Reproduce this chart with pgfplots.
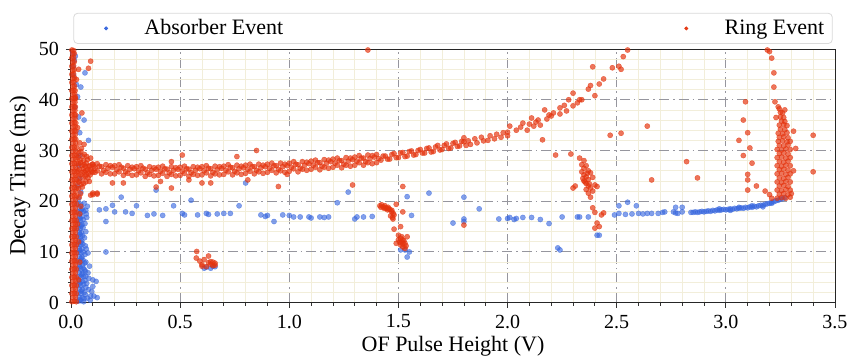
\documentclass[border=0pt]{standalone}
\usepackage{fontspec}
\setmainfont{Liberation Serif}
\usepackage{pgfplots}
\pgfplotsset{compat=1.18}
\definecolor{absblue}{RGB}{55,102,222}
\definecolor{ringred}{RGB}{228,52,14}
\definecolor{minorg}{RGB}{242,238,218}
\definecolor{majorg}{RGB}{150,150,158}
\begin{document}
\begin{tikzpicture}
\useasboundingbox (0,0) rectangle (425.5pt,180pt);
\begin{axis}[
  at={(35.5pt,28.65pt)}, anchor=south west,
  scale only axis, width=382pt, height=126.85pt,
  xmin=0, xmax=3.5, ymin=0, ymax=50,
  xtick={0,0.5,1,1.5,2,2.5,3,3.5},
  ytick={0,10,20,30,40,50},
  minor x tick num=4, minor y tick num=4,
  tick pos=left, tick align=outside,
  major tick length=2.5pt, minor tick length=1.5pt,
  tick style={draw=black!80, line width=0.4pt},
  xticklabel style={/pgf/number format/.cd, fixed, fixed zerofill, precision=1},
  /pgf/number format/assume math mode=true,
  ticklabel style={font=\fontsize{10}{12}\selectfont},
  xlabel={OF Pulse Height (V)}, ylabel={Decay Time (ms)},
  xlabel style={font=\fontsize{11}{13}\selectfont, at={(axis description cs:0.5,0)}, anchor=center, yshift=-22pt},
  ylabel style={font=\fontsize{11.5}{13}\selectfont, at={(axis description cs:0,0.5)}, anchor=center, rotate=0, yshift=25.5pt},
  grid=both,
  major grid style={draw=majorg, dash pattern=on 5pt off 2pt on 0.8pt off 2pt, line width=0.5pt},
  minor grid style={draw=minorg, line width=0.35pt},
  axis line style={draw=black!85, line width=0.5pt},
  legend columns=2,
  legend image code/.code={\fill[#1, fill opacity=0.9] (0pt,0pt) circle (0.75pt); \path (-14pt,0pt) (17pt,0pt);},
  legend style={at={(axis description cs:0.5,1.02)}, anchor=south,
    draw={rgb,255:red,218;green,218;blue,218}, line width=0.4pt, rounded corners=2pt, fill=white,
    font=\fontsize{11}{13}\selectfont, inner xsep=2pt, inner ysep=1pt},
]
\addplot[only marks, mark=*, mark size=1.3pt, color=absblue, fill=absblue, mark options={fill opacity=0.62, draw opacity=0.62, line width=0.2pt}] table[row sep=\\] {
x y\\
0.032 0.3\\0.045 0.4\\0.058 0.2\\0.038 1.1\\0.052 1.0\\0.032 1.9\\0.045 1.8\\0.060 2.0\\0.038 2.7\\0.052 2.6\\
0.032 3.5\\0.045 3.4\\0.058 3.6\\0.038 4.3\\0.052 4.2\\0.032 5.1\\0.045 5.0\\0.058 5.2\\0.038 5.9\\0.052 5.8\\
0.032 6.7\\0.045 6.6\\0.056 6.8\\0.038 7.5\\0.052 7.4\\0.032 8.3\\0.045 8.2\\0.055 8.4\\0.038 9.1\\0.050 9.0\\
0.032 9.9\\0.045 9.8\\0.056 10.0\\0.038 10.7\\0.050 10.6\\0.032 11.5\\0.044 11.4\\0.054 11.6\\0.038 12.3\\0.049 12.2\\
0.032 13.1\\0.044 13.0\\0.053 13.2\\0.038 13.9\\0.048 13.8\\0.032 14.7\\0.043 14.6\\0.055 14.8\\0.038 15.5\\0.050 15.4\\
0.032 16.3\\0.043 16.2\\0.056 16.4\\0.038 17.1\\0.050 17.0\\0.032 17.9\\0.045 17.8\\0.058 18.0\\0.038 18.7\\0.052 18.6\\
0.032 19.5\\0.045 19.4\\0.060 19.6\\0.040 0.6\\0.048 2.3\\0.041 3.9\\0.049 5.5\\0.041 7.1\\0.047 8.7\\0.040 10.3\\
0.046 11.9\\0.041 13.5\\0.046 15.1\\0.041 16.7\\0.047 18.3\\0.066 1.6\\0.068 3.0\\0.064 4.4\\0.066 6.2\\0.063 7.8\\
0.060 0.8\\0.075 0.9\\0.090 1.3\\0.105 1.3\\0.080 2.6\\0.100 3.2\\0.115 4.2\\0.100 4.5\\0.072 3.8\\0.068 5.2\\
0.078 5.9\\0.062 6.5\\0.085 7.2\\0.068 8.0\\0.064 9.5\\0.160 10.0\\0.066 11.2\\0.062 12.8\\0.068 14.0\\0.064 15.6\\
0.072 16.8\\0.068 18.2\\0.075 19.0\\0.070 17.5\\0.120 1.0\\0.082 4.8\\0.088 0.5\\0.095 2.2\\0.078 9.8\\0.070 10.6\\
0.035 20.5\\0.045 21.8\\0.030 23.0\\0.040 24.5\\0.035 27.0\\0.040 29.0\\0.080 32.0\\0.040 33.5\\0.035 36.6\\0.060 36.0\\
0.030 40.6\\0.045 42.5\\0.064 45.3\\0.010 46.5\\0.015 47.8\\0.008 49.2\\0.020 48.6\\0.012 44.8\\0.025 43.0\\0.018 38.5\\
0.13 18.3\\0.16 18.5\\0.19 19.2\\0.23 20.8\\0.20 17.9\\0.16 16.0\\0.25 17.9\\0.28 17.6\\0.30 19.1\\0.35 17.2\\
0.39 22.2\\0.38 17.5\\0.42 17.2\\0.47 19.1\\0.51 17.6\\0.52 17.3\\0.55 20.2\\0.58 17.3\\0.62 17.6\\0.63 17.4\\
0.67 17.5\\0.70 17.6\\0.73 17.6\\0.77 19.1\\0.80 23.6\\0.87 17.3\\0.89 17.0\\0.90 17.2\\0.93 16.0\\0.97 17.3\\
1.00 17.2\\1.02 16.9\\1.05 16.9\\1.09 16.9\\1.10 16.7\\1.14 16.9\\1.16 16.8\\1.18 16.9\\1.22 19.7\\1.27 21.8\\
1.30 16.5\\1.31 16.9\\1.34 16.9\\1.38 17.0\\1.56 17.2\\1.54 20.9\\1.53 10.4\\1.54 9.0\\1.51 10.4\\1.55 10.0\\
1.64 21.6\\1.75 15.7\\1.80 16.0\\1.80 16.5\\1.80 20.8\\1.87 18.5\\1.96 16.5\\2.00 16.6\\2.01 16.8\\2.03 16.4\\
2.04 16.6\\2.07 16.8\\2.11 16.8\\2.15 16.4\\2.19 15.6\\2.25 16.9\\2.32 16.9\\2.33 16.9\\2.37 16.9\\2.23 10.8\\
2.24 10.4\\2.41 13.3\\2.42 13.3\\2.49 17.3\\2.51 19.1\\2.55 19.8\\2.59 19.1\\2.51 17.6\\2.54 17.4\\2.57 17.5\\
2.60 17.6\\2.62 17.5\\2.64 17.6\\2.66 17.6\\2.69 17.6\\2.71 17.8\\2.72 17.9\\2.76 17.9\\2.77 17.7\\2.78 17.6\\
2.80 17.9\\2.77 18.8\\2.80 18.8\\2.84 17.8\\
0.61 6.8\\0.62 7.0\\0.65 7.2\\0.64 6.8\\0.66 7.1\\
2.85 17.8\\2.86 17.9\\2.87 17.8\\2.88 17.9\\2.89 18.0\\2.90 17.9\\2.91 18.0\\2.92 18.1\\2.93 18.0\\2.94 18.2\\
2.95 18.1\\2.96 18.3\\2.97 18.2\\2.98 18.3\\2.99 18.4\\3.00 18.3\\3.01 18.4\\3.02 18.5\\3.03 18.4\\3.04 18.6\\
3.05 18.5\\3.06 18.6\\3.07 18.7\\3.08 18.6\\3.09 18.8\\3.10 18.7\\3.11 18.9\\3.12 18.8\\3.13 19.0\\3.14 18.9\\
3.15 19.1\\3.16 19.2\\3.17 19.2\\3.18 19.4\\3.19 19.5\\3.20 19.6\\3.21 19.8\\3.22 19.9\\3.23 20.1\\3.24 20.2\\
3.25 20.4\\3.26 20.5\\3.27 20.7\\3.06 18.8\\3.12 19.1\\3.02 18.2\\2.97 18.5\\3.17 18.9\\3.21 19.6\\
};
\addlegendentry{\makebox[254.7pt][l]{Absorber Event}}
\addplot[only marks, mark=*, mark size=1.3pt, color=ringred, fill=ringred, mark options={fill opacity=0.68, draw opacity=0.68, line width=0.2pt}] table[row sep=\\] {
x y\\
0.004 0.2\\0.015 0.3\\0.024 0.2\\0.009 1.0\\0.020 1.1\\0.004 1.8\\0.015 1.9\\0.024 1.8\\0.009 2.6\\0.020 2.7\\
0.004 3.4\\0.015 3.5\\0.024 3.4\\0.009 4.2\\0.020 4.3\\0.004 5.0\\0.015 5.1\\0.024 5.0\\0.009 5.8\\0.020 5.9\\
0.004 6.6\\0.015 6.7\\0.024 6.6\\0.009 7.4\\0.020 7.5\\0.004 8.2\\0.015 8.3\\0.024 8.2\\0.009 9.0\\0.020 9.1\\
0.004 9.8\\0.015 9.9\\0.024 9.8\\0.009 10.6\\0.020 10.7\\0.004 11.4\\0.015 11.5\\0.024 11.4\\0.009 12.2\\0.020 12.3\\
0.004 13.0\\0.015 13.1\\0.024 13.0\\0.009 13.8\\0.020 13.9\\0.004 14.6\\0.015 14.7\\0.024 14.6\\0.009 15.4\\0.020 15.5\\
0.004 16.2\\0.015 16.3\\0.024 16.2\\0.009 17.0\\0.020 17.1\\0.004 17.8\\0.015 17.9\\0.024 17.8\\0.009 18.6\\0.020 18.7\\
0.004 19.4\\0.015 19.5\\0.026 19.4\\0.009 20.2\\0.021 20.3\\0.004 21.0\\0.015 21.1\\0.026 21.0\\0.009 21.8\\0.021 21.9\\
0.004 22.6\\0.015 22.7\\0.026 22.6\\0.009 23.4\\0.021 23.5\\0.004 24.2\\0.015 24.3\\0.026 24.2\\0.009 25.0\\0.021 25.1\\
0.004 25.8\\0.015 25.9\\0.026 25.8\\0.009 26.6\\0.021 26.7\\0.004 27.4\\0.015 27.5\\0.026 27.4\\0.009 28.2\\0.021 28.3\\
0.004 29.0\\0.015 29.1\\0.026 29.0\\0.009 29.8\\0.021 29.9\\0.004 30.6\\0.015 30.7\\0.026 30.6\\0.009 31.4\\0.021 31.5\\
0.004 32.2\\0.015 32.3\\0.022 32.2\\0.009 33.0\\0.019 33.1\\0.004 33.8\\0.015 33.9\\0.022 33.8\\0.009 34.6\\0.019 34.7\\
0.004 35.4\\0.015 35.5\\0.022 35.4\\0.009 36.2\\0.019 36.3\\0.004 37.0\\0.015 37.1\\0.021 37.0\\0.009 37.8\\0.018 37.9\\
0.004 38.6\\0.014 38.7\\0.020 38.6\\0.009 39.4\\0.018 39.5\\0.004 40.2\\0.014 40.3\\0.020 40.2\\0.009 41.0\\0.017 41.1\\
0.004 41.8\\0.013 41.9\\0.019 41.8\\0.009 42.6\\0.016 42.7\\0.004 43.4\\0.013 43.5\\0.009 44.2\\0.016 44.3\\0.004 45.0\\
0.012 45.1\\0.008 45.8\\0.015 45.9\\0.004 46.6\\0.012 46.7\\0.008 47.4\\0.015 47.5\\0.004 48.2\\0.012 48.3\\0.008 49.0\\
0.015 49.1\\0.004 49.8\\0.012 49.7\\
0.035 22.5\\0.040 24.0\\0.045 25.2\\0.038 26.3\\0.050 27.0\\0.042 28.1\\0.036 29.5\\0.048 30.4\\0.055 24.6\\0.060 25.8\\
0.065 26.9\\0.058 28.0\\0.070 27.5\\0.075 26.2\\0.080 25.5\\0.085 27.0\\0.090 26.3\\0.068 23.8\\0.052 22.8\\0.044 21.5\\
0.038 20.8\\0.062 29.2\\0.072 28.8\\0.090 28.5\\0.040 31.5\\0.035 27.4\\0.046 23.3\\0.078 24.6\\0.095 25.9\\0.098 27.3\\
0.033 25.0\\0.056 26.4\\0.066 24.9\\0.084 23.9\\0.120 21.4\\0.100 21.6\\0.090 21.2\\0.105 26.9\\0.110 25.7\\0.045 19.0\\
0.040 17.5\\0.035 12.0\\0.040 8.0\\0.035 4.5\\0.030 15.5\\0.032 26.0\\0.044 27.6\\0.052 28.9\\0.060 27.2\\0.068 26.0\\
0.075 28.2\\0.082 26.8\\0.050 25.6\\0.058 23.5\\0.036 23.8\\0.032 28.6\\0.045 29.8\\0.070 25.3\\0.088 25.2\\
0.080 46.2\\0.090 47.6\\0.035 46.0\\0.050 37.4\\0.030 34.5\\0.060 31.2\\0.025 44.0\\0.020 40.5\\
0.10 25.7\\0.11 26.5\\0.10 27.3\\0.12 26.0\\0.13 26.9\\0.12 27.4\\0.14 25.4\\0.15 26.1\\0.14 26.8\\
0.16 25.7\\0.17 26.5\\0.16 27.2\\0.18 25.4\\0.19 26.7\\0.18 27.0\\0.20 25.4\\0.21 26.2\\0.20 27.0\\
0.22 25.8\\0.23 26.7\\0.22 27.2\\0.24 25.1\\0.25 25.8\\0.24 26.5\\0.26 25.5\\0.27 26.3\\0.26 27.0\\
0.28 25.1\\0.29 26.4\\0.28 26.7\\0.30 25.2\\0.31 26.0\\0.30 26.8\\0.32 25.6\\0.33 26.5\\0.32 27.0\\
0.34 24.9\\0.35 25.6\\0.34 26.3\\0.36 25.3\\0.37 26.1\\0.36 26.8\\0.38 25.0\\0.39 26.3\\0.38 26.6\\
0.40 25.1\\0.41 25.9\\0.40 26.7\\0.42 25.5\\0.43 26.4\\0.42 26.9\\0.44 24.9\\0.45 25.6\\0.44 26.3\\
0.46 25.3\\0.47 26.1\\0.46 26.8\\0.48 25.0\\0.49 26.3\\0.48 26.6\\0.50 25.1\\0.51 25.9\\0.50 26.7\\
0.52 25.5\\0.53 26.4\\0.52 26.9\\0.54 24.9\\0.55 25.6\\0.54 26.3\\0.56 25.3\\0.57 26.1\\0.56 26.8\\
0.58 25.1\\0.59 26.4\\0.58 26.7\\0.60 25.2\\0.61 26.0\\0.60 26.8\\0.62 25.6\\0.63 26.5\\0.62 27.0\\
0.64 25.0\\0.65 25.7\\0.64 26.4\\0.66 25.4\\0.67 26.2\\0.66 26.9\\0.68 25.2\\0.69 26.5\\0.68 26.8\\
0.70 25.3\\0.71 26.1\\0.70 26.9\\0.72 25.8\\0.73 26.7\\0.72 27.2\\0.74 25.2\\0.75 25.9\\0.74 26.6\\
0.76 25.6\\0.77 26.4\\0.76 27.1\\0.78 25.3\\0.79 26.6\\0.78 26.9\\0.80 25.5\\0.81 26.3\\0.80 27.1\\
0.82 25.9\\0.83 26.8\\0.82 27.3\\0.84 25.4\\0.85 26.1\\0.84 26.8\\0.86 25.8\\0.87 26.6\\0.86 27.3\\
0.88 25.5\\0.89 26.8\\0.88 27.1\\0.90 25.7\\0.91 26.5\\0.90 27.3\\0.92 26.1\\0.93 27.0\\0.92 27.5\\
0.94 25.6\\0.95 26.3\\0.94 27.0\\0.96 26.0\\0.97 26.8\\0.96 27.5\\0.98 25.7\\0.99 27.0\\0.98 27.3\\
1.00 25.9\\1.01 26.7\\1.00 27.5\\1.02 26.4\\1.03 27.3\\1.02 27.8\\1.04 25.8\\1.05 26.5\\1.04 27.2\\
1.06 26.3\\1.07 27.1\\1.06 27.8\\1.08 26.1\\1.09 27.4\\1.08 27.7\\1.10 26.3\\1.11 27.1\\1.10 27.9\\
1.12 26.7\\1.13 27.6\\1.12 28.1\\1.14 26.2\\1.15 26.9\\1.14 27.6\\1.16 26.7\\1.17 27.5\\1.16 28.2\\
1.18 26.5\\1.19 27.8\\1.18 28.1\\1.20 26.7\\1.21 27.5\\1.20 28.3\\1.22 27.1\\1.23 28.0\\1.22 28.5\\
1.24 26.6\\1.25 27.3\\1.24 28.0\\1.26 27.1\\1.27 27.9\\1.26 28.6\\1.28 26.9\\1.29 28.2\\1.28 28.5\\
1.30 27.1\\1.31 27.9\\1.30 28.7\\1.32 27.6\\1.33 28.5\\1.32 29.0\\1.34 27.1\\1.35 27.8\\1.34 28.5\\
1.36 27.6\\1.37 28.4\\1.36 29.1\\1.38 27.4\\1.39 28.7\\1.38 29.0\\1.40 27.6\\1.41 28.4\\1.40 29.2\\
1.42 28.1\\1.43 28.9\\1.44 28.9\\1.45 28.3\\1.46 28.3\\1.47 29.2\\1.48 29.4\\1.49 28.6\\1.50 28.6\\1.51 29.5\\
1.52 29.6\\1.53 28.8\\1.54 28.9\\1.55 29.8\\1.56 29.9\\1.57 29.1\\1.58 29.2\\1.59 30.0\\1.60 30.2\\1.61 29.5\\
1.62 29.5\\1.63 30.4\\1.64 30.5\\1.65 29.7\\1.66 29.8\\1.67 30.7\\1.68 31.0\\1.69 30.1\\1.70 30.2\\1.71 31.0\\
1.72 31.3\\1.73 30.4\\1.74 30.5\\1.75 31.4\\1.76 31.6\\1.77 30.8\\1.78 30.9\\1.79 31.8\\1.80 31.7\\1.81 31.0\\
1.80 32.5\\1.82 31.9\\1.83 31.2\\1.85 32.3\\1.86 31.5\\1.88 32.6\\1.89 31.9\\1.91 32.0\\1.92 32.9\\1.94 32.3\\
1.95 33.2\\1.97 32.6\\1.98 33.5\\2.00 33.6\\2.00 32.9\\2.01 34.8\\
2.07 35.4\\2.09 34.0\\2.11 36.4\\2.12 34.8\\2.13 35.6\\2.15 35.0\\2.17 38.0\\2.18 36.2\\2.20 36.8\\2.21 37.4\\
2.24 38.4\\2.24 37.2\\2.27 37.8\\2.28 40.0\\2.30 41.3\\2.30 38.8\\2.32 39.4\\2.33 40.0\\2.34 40.0\\2.37 42.1\\
2.38 42.8\\2.40 40.8\\2.42 43.1\\2.44 44.1\\2.39 46.5\\2.48 46.3\\2.51 46.6\\2.52 46.0\\2.53 48.5\\2.55 49.8\\
2.04 34.0\\2.06 34.6\\2.10 35.2\\2.14 36.0\\2.19 37.0\\2.26 38.9\\
1.36 49.8\\0.51 29.1\\0.76 28.8\\0.85 30.0\\0.46 27.8\\0.19 23.6\\0.24 23.6\\0.41 23.9\\0.46 22.6\\0.54 24.2\\
0.60 23.6\\0.64 23.6\\0.81 24.2\\0.95 22.9\\0.99 25.3\\1.29 23.2\\0.12 21.6\\0.10 21.3\\0.39 22.8\\1.52 22.9\\
1.52 17.9\\1.51 15.0\\1.48 14.5\\1.80 15.3\\2.16 32.1\\2.22 29.1\\2.29 29.3\\2.52 33.4\\2.47 33.0\\2.64 34.8\\
2.82 27.8\\2.87 24.6\\2.66 24.2\\2.44 17.7\\
0.576 10.1\\0.574 8.8\\0.59 8.2\\0.60 7.2\\0.61 8.5\\0.63 9.2\\0.63 7.9\\0.64 7.6\\0.65 7.3\\0.60 7.5\\
0.66 7.8\\0.65 8.0\\0.62 7.1\\0.64 8.1\\0.66 7.4\\
1.415 19.1\\1.43 18.9\\1.446 18.6\\1.461 18.4\\1.469 17.9\\1.476 17.6\\1.464 17.1\\1.473 16.8\\1.453 18.8\\1.438 19.1\\
1.423 19.3\\1.44 18.7\\1.455 18.5\\1.47 18.2\\1.48 17.3\\1.475 16.5\\1.49 19.4\\1.42 18.8\\1.435 18.6\\1.45 18.3\\
1.50 13.3\\1.51 12.7\\1.515 12.0\\1.52 12.4\\1.53 11.7\\1.51 11.4\\1.49 11.7\\1.52 11.0\\1.54 13.0\\1.50 12.4\\
1.515 13.0\\1.53 10.7\\1.525 12.2\\1.505 11.9\\1.52 11.6\\1.535 11.2\\
2.33 28.5\\2.34 27.2\\2.35 26.5\\2.34 25.8\\2.35 25.2\\2.36 24.8\\2.37 24.3\\2.35 24.0\\2.36 23.5\\2.37 23.0\\
2.38 22.6\\2.36 22.3\\2.39 24.7\\2.38 25.6\\2.37 26.0\\2.36 27.0\\2.40 23.2\\2.39 22.0\\2.41 22.9\\2.37 21.6\\
2.31 23.0\\2.30 22.6\\2.38 20.8\\2.39 18.7\\2.41 15.7\\2.40 14.7\\2.43 17.3\\2.42 15.0\\2.40 17.8\\2.35 28.0\\
2.355 23.8\\2.365 25.5\\2.345 24.5\\2.375 23.4\\
3.235 20.6\\3.255 20.7\\3.275 20.6\\3.295 20.8\\3.245 21.4\\3.265 21.5\\3.285 21.3\\
3.235 22.2\\3.255 22.1\\3.275 22.3\\3.295 22.2\\3.245 23.0\\3.265 23.1\\3.285 22.9\\
3.235 23.8\\3.255 23.7\\3.275 23.9\\3.295 23.8\\3.245 24.6\\3.265 24.5\\3.285 24.7\\
3.235 25.4\\3.255 25.5\\3.275 25.3\\3.295 25.4\\3.245 26.2\\3.265 26.3\\3.285 26.1\\
3.235 27.0\\3.255 26.9\\3.275 27.1\\3.295 27.0\\3.245 27.8\\3.265 27.7\\3.285 27.9\\
3.235 28.6\\3.255 28.7\\3.275 28.5\\3.295 28.6\\3.245 29.4\\3.265 29.5\\3.285 29.3\\
3.235 30.2\\3.255 30.1\\3.275 30.3\\3.295 30.2\\3.245 31.0\\3.265 30.9\\3.285 31.1\\
3.24 31.8\\3.26 31.9\\3.28 31.7\\3.295 31.8\\3.245 32.6\\3.265 32.7\\3.285 32.5\\
3.24 33.4\\3.26 33.3\\3.28 33.5\\3.25 34.2\\3.27 34.1\\3.245 35.0\\3.265 35.1\\3.28 34.9\\
3.255 35.8\\3.27 35.7\\3.25 36.6\\3.265 36.5\\3.26 37.4\\3.245 38.2\\3.27 38.0\\
3.20 49.5\\3.21 48.2\\3.22 45.3\\3.22 42.5\\3.225 39.6\\3.24 38.6\\3.09 39.6\\3.08 36.0\\3.10 33.5\\3.06 32.0\\
3.11 30.5\\3.08 29.0\\3.12 27.5\\3.10 25.3\\3.14 23.0\\3.18 22.0\\3.40 33.0\\3.40 25.8\\3.32 30.4\\3.10 24.2\\
3.10 22.2\\3.20 21.3\\3.21 20.6\\3.19 49.8\\3.25 37.5\\3.23 36.5\\3.31 33.8\\3.31 26.0\\3.30 21.5\\
};
\addlegendentry{Ring Event}
\end{axis}
\end{tikzpicture}
\end{document}
